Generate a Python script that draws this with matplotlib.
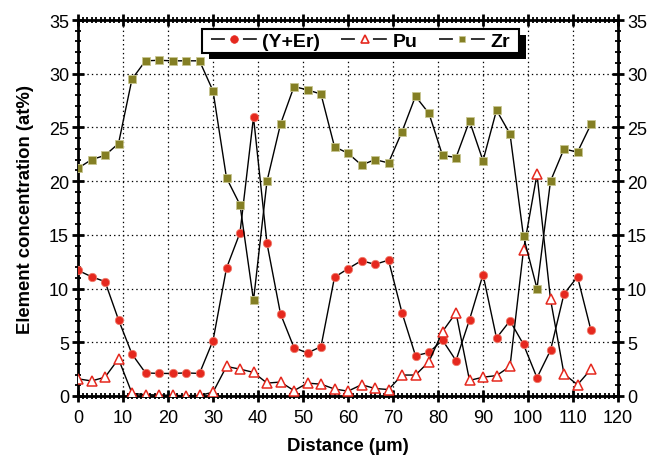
import matplotlib
matplotlib.use("Agg")
import matplotlib.pyplot as plt
from matplotlib.lines import Line2D
from matplotlib.patches import Rectangle
from matplotlib.transforms import IdentityTransform
from matplotlib.ticker import MultipleLocator

plt.rcParams['font.family'] = ['Liberation Sans', 'DejaVu Sans']
plt.rcParams['lines.scale_dashes'] = False

distance = [0, 3, 6, 9, 12, 15, 18, 21, 24, 27, 30, 33, 36, 39, 42, 45, 48, 51, 54,
            57, 60, 63, 66, 69, 72, 75, 78, 81, 84, 87, 90, 93, 96, 99, 102, 105, 108, 111, 114]

y_er = [11.7, 11.1, 10.65, 7.1, 3.9, 2.15, 2.1, 2.1, 2.15, 2.1, 5.15, 11.9, 15.2, 25.95,
        14.2, 7.65, 4.5, 4.0, 4.6, 11.05, 11.85, 12.6, 12.25, 12.65, 7.75, 3.75, 4.05, 5.2,
        3.3, 7.1, 11.3, 5.4, 7.0, 4.8, 1.7, 4.25, 9.5, 11.1, 6.1]

pu = [1.6, 1.4, 1.75, 3.45, 0.25, 0.12, 0.1, 0.05, 0.03, 0.05, 0.35, 2.75, 2.5, 2.2,
      1.2, 1.3, 0.5, 1.2, 1.1, 0.65, 0.45, 1.05, 0.7, 0.6, 1.95, 1.95, 3.2, 6.0,
      7.75, 1.45, 1.75, 1.9, 2.75, 13.6, 20.65, 9.0, 2.05, 1.05, 2.5]

zr = [21.2, 22.0, 22.4, 23.5, 29.5, 31.2, 31.25, 31.2, 31.2, 31.2, 28.4, 20.3, 17.8, 8.9,
      20.0, 25.3, 28.8, 28.5, 28.1, 23.2, 22.6, 21.5, 22.0, 21.7, 24.6, 27.9, 26.3, 22.4,
      22.2, 25.6, 21.9, 26.6, 24.4, 14.85, 10.0, 20.0, 23.0, 22.7, 25.3]

series_labels = ['(Y+Er)', 'Pu', 'Zr']
x_ticks = list(range(0, 121, 10))
y_ticks = list(range(0, 36, 5))

RED = '#e5281e'
OLIVE = '#847f24'

fig = plt.figure(figsize=(6.56, 4.56), dpi=100)
ax = fig.add_axes([78/656, 59/456, 540/656, 376/456])

lw = 1.0
ax.plot(distance, y_er, '-', color='black', lw=lw, zorder=3,
        marker='o', ms=6.0, mfc=RED, mec='#f07a6a', mew=0.6)
ax.plot(distance, pu, '-', color='black', lw=lw, zorder=3,
        marker='^', ms=6.5, mfc='white', mec=RED, mew=1.1)
ax.plot(distance, zr, '-', color='black', lw=lw, zorder=3,
        marker='s', ms=5.5, mfc=OLIVE, mec='#c8c690', mew=0.6)

ax.set_xlim(0, 120)
ax.set_ylim(0, 35)
ax.set_xticks(x_ticks)
ax.set_yticks(y_ticks)
ax.xaxis.set_minor_locator(MultipleLocator(1))
ax.yaxis.set_minor_locator(MultipleLocator(1))
ax.grid(True, which='major', color='black', linestyle=(0, (1, 2.2)), linewidth=0.9, zorder=0)

for s in ax.spines.values():
    s.set_linewidth(2.0)

ax.tick_params(which='major', direction='inout', length=9, width=2.0,
               labelsize=13, top=True, right=True, labelright=True, pad=3)
ax.tick_params(which='minor', direction='inout', length=5, width=1.3,
               top=True, right=True)
ax.tick_params(axis='x', which='major', pad=5)
ax.tick_params(axis='y', which='major', pad=2)

ax.set_xlabel('Distance (μm)', fontsize=13.3, fontweight='bold')
ax.set_ylabel('Element concentration (at%)', fontsize=13.3, fontweight='bold')
ax.xaxis.set_label_coords(0.5, -0.109)
ax.yaxis.set_label_coords(-0.0815, 0.5)

# legend handles with gap around marker
def handle(marker, mfc, mec, ms, mew):
    ln = Line2D([], [], color='#333333', lw=1.4, linestyle=(0, (10, 13)))
    mk = Line2D([], [], linestyle='none', marker=marker, ms=ms, mfc=mfc, mec=mec, mew=mew)
    return (ln, mk)

handles = [handle('o', RED, RED, 5.5, 0.5),
           handle('^', 'white', RED, 6.0, 1.2),
           handle('s', OLIVE, '#c8c690', 5.0, 0.5)]
leg = ax.legend(handles, series_labels, ncol=3, loc='center',
                bbox_to_anchor=((360.5 - 78) / 540, (397 - 42) / 376),
                borderaxespad=0,
                prop={'weight': 'bold', 'size': 14}, handlelength=2.37,
                handletextpad=0.28, columnspacing=1.1, frameon=False,
                borderpad=0.0)
leg.set_zorder(10)

fig.canvas.draw()
bb = leg.get_window_extent()
cy = (bb.y0 + bb.y1) / 2
x0, x1 = bb.x0 - 9, bb.x1 + 9
y0, y1 = cy - 12, cy + 12
shadow = Rectangle((x0 + 7, y0 - 6), x1 - x0, y1 - y0, transform=IdentityTransform(),
                   facecolor='black', edgecolor='none', zorder=8, clip_on=False)
frame = Rectangle((x0, y0), x1 - x0, y1 - y0, transform=IdentityTransform(),
                  facecolor='white', edgecolor='black', lw=1.5, zorder=9, clip_on=False)
ax.add_artist(shadow)
ax.add_artist(frame)

fig.savefig('out.png', dpi=100)
